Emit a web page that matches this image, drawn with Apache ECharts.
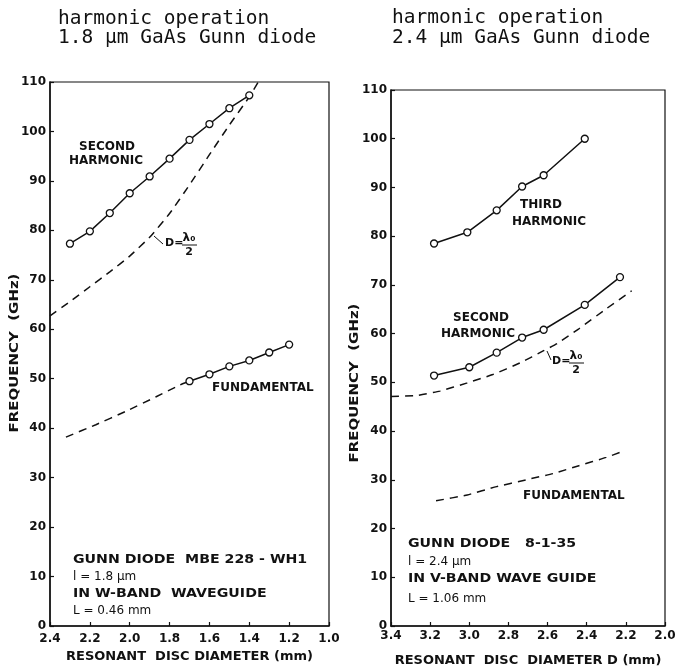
<!DOCTYPE html>
<html>
<head>
<meta charset="utf-8">
<script src="https://cdn.jsdelivr.net/npm/echarts@6/dist/echarts.min.js"></script>
<style>
html, body { margin: 0; padding: 0; background: #fff; }
#chart { width: 675px; height: 669px; }
</style>
</head>
<body>
<div id="chart"></div>
<script>
// left panel: 1.8 um GaAs diode, W-band waveguide
const leftSecondD = [2.3, 2.2, 2.1, 2.0, 1.9, 1.8, 1.7, 1.6, 1.5, 1.4];
const leftSecondF = [77.3, 79.8, 83.5, 87.5, 90.9, 94.5, 98.3, 101.5, 104.7, 107.3];
const leftFundD = [1.7, 1.6, 1.5, 1.4, 1.3, 1.2];
const leftFundF = [49.5, 50.9, 52.5, 53.7, 55.3, 56.9];
const leftFundDashD = [2.32, 2.17, 2.02, 1.87, 1.75, 1.7];
const leftFundDashF = [38.2, 40.7, 43.4, 46.3, 48.7, 49.5];
const leftHalfLambdaD = [2.4, 2.3, 2.2, 2.1, 2.0, 1.9, 1.8, 1.7, 1.6, 1.5, 1.4, 1.355];
const leftHalfLambdaF = [62.7, 65.6, 68.6, 71.6, 74.8, 78.6, 83.4, 89.2, 95.3, 101.3, 107.0, 110];

// right panel: 2.4 um GaAs diode, V-band waveguide
const rightThirdD = [3.18, 3.01, 2.86, 2.73, 2.62, 2.41];
const rightThirdF = [78.5, 80.8, 85.3, 90.2, 92.5, 100];
const rightSecondD = [3.18, 3.0, 2.86, 2.73, 2.62, 2.41, 2.23];
const rightSecondF = [51.4, 53.1, 56.1, 59.2, 60.8, 65.9, 71.6];
const rightHalfLambdaD = [3.4, 3.27, 3.15, 3.01, 2.88, 2.74, 2.62, 2.55, 2.44, 2.3, 2.17];
const rightHalfLambdaF = [47.1, 47.3, 48.2, 49.9, 51.6, 54.0, 56.5, 58.0, 61.0, 65.1, 68.8];
const rightFundD = [3.17, 3.01, 2.86, 2.71, 2.57, 2.44, 2.3, 2.22];
const rightFundF = [25.7, 26.9, 28.6, 30.0, 31.3, 32.9, 34.6, 35.8];

const INK = '#111';
const BOLD = 'bold 12px "DejaVu Sans"';

function zip(d, f) {
    return d.map((x, i) => [x, f[i]]);
}

function solidSeries(d, f, g) {
    return {
        type: 'line', xAxisIndex: g, yAxisIndex: g,
        data: zip(d, f),
        symbol: 'circle', symbolSize: 7,
        itemStyle: { color: '#fff', borderColor: INK, borderWidth: 1.3 },
        lineStyle: { color: INK, width: 1.5 },
        z: 3
    };
}

function dashedSeries(d, f, g) {
    return {
        type: 'line', xAxisIndex: g, yAxisIndex: g,
        data: zip(d, f),
        symbol: 'none', smooth: 0.15,
        lineStyle: { color: INK, width: 1.5, type: [8, 6] },
        z: 2
    };
}

function text(x, y, str, extra) {
    const el = {
        type: 'text', x: x, y: y,
        style: {
            text: str, font: BOLD, fill: INK,
            align: 'left', verticalAlign: 'middle',
            textAlign: 'left', textVerticalAlign: 'middle'
        }
    };
    return Object.assign(el, extra || {});
}

function centered(x, y, str, extra) {
    const el = text(x, y, str, extra);
    el.style.align = el.style.textAlign = 'center';
    return el;
}

function line(x1, y1, x2, y2) {
    return { type: 'line', shape: { x1, y1, x2, y2 }, style: { stroke: INK, lineWidth: 1 } };
}

// D = lambda0 / 2 label
function halfLambda(x, y, lead) {
    return [
        line(lead[0], lead[1], lead[2], lead[3]),
        text(x, y, 'D=', { style: { text: 'D=', font: 'bold 11px "DejaVu Sans"', fill: INK, align: 'left', verticalAlign: 'middle' } }),
        centered(x + 24, y - 5, 'λ₀', { style: { text: 'λ₀', font: 'bold 12px "DejaVu Sans"', fill: INK, align: 'center', verticalAlign: 'middle' } }),
        line(x + 17, y + 2, x + 32, y + 2),
        centered(x + 24, y + 9, '2', { style: { text: '2', font: 'bold 11px "DejaVu Sans"', fill: INK, align: 'center', verticalAlign: 'middle' } })
    ];
}

function xAxis(g, min, max, name, gap, margin) {
    return {
        type: 'value', gridIndex: g, min: min, max: max, interval: 0.2, inverse: true,
        name: name, nameLocation: 'middle', nameGap: gap,
        nameTextStyle: { fontFamily: 'DejaVu Sans', fontWeight: 'bold', fontSize: 13, color: INK },
        axisLine: { lineStyle: { color: INK, width: 1.5 } },
        axisTick: { inside: true, length: 4, lineStyle: { color: INK, width: 1.2 } },
        axisLabel: { margin: margin, fontFamily: 'DejaVu Sans', fontWeight: 'bold', fontSize: 12, color: INK,
            formatter: v => v.toFixed(1) },
        splitLine: { show: false }
    };
}

function yAxis(g) {
    return {
        type: 'value', gridIndex: g, min: 0, max: 110, interval: 10,
        axisLine: { show: true, lineStyle: { color: INK, width: 1.5 } },
        axisTick: { show: true, inside: true, length: 4, lineStyle: { color: INK, width: 1.2 } },
        axisLabel: { margin: 4, fontFamily: 'DejaVu Sans', fontWeight: 'bold', fontSize: 12, color: INK },
        splitLine: { show: false }
    };
}

const mono = '19.5px "DejaVu Sans Mono"';
const wide = { scaleX: 1.18 };

const chart = echarts.init(document.getElementById('chart'));

chart.setOption({
    animation: false,
    backgroundColor: '#fff',
    grid: [
        { left: 50, top: 82, width: 279, height: 544, show: true, borderColor: INK, borderWidth: 1.2, outerBoundsMode: 'none' },
        { left: 391, top: 90, width: 274, height: 536, show: true, borderColor: INK, borderWidth: 1.2, outerBoundsMode: 'none' }
    ],
    xAxis: [
        xAxis(0, 1.0, 2.4, 'RESONANT  DISC DIAMETER (mm)', 14, 7),
        xAxis(1, 2.0, 3.4, 'RESONANT  DISC  DIAMETER D (mm)', 28, 4)
    ],
    yAxis: [yAxis(0), yAxis(1)],
    series: [
        solidSeries(leftSecondD, leftSecondF, 0),
        solidSeries(leftFundD, leftFundF, 0),
        dashedSeries(leftFundDashD, leftFundDashF, 0),
        dashedSeries(leftHalfLambdaD, leftHalfLambdaF, 0),
        solidSeries(rightThirdD, rightThirdF, 1),
        solidSeries(rightSecondD, rightSecondF, 1),
        dashedSeries(rightHalfLambdaD, rightHalfLambdaF, 1),
        dashedSeries(rightFundD, rightFundF, 1)
    ],
    graphic: [
        // panel titles
        text(58, 19, 'harmonic operation', { style: { text: 'harmonic operation', font: mono, fill: INK, align: 'left', verticalAlign: 'middle' } }),
        text(58, 38, '1.8 μm GaAs Gunn diode', { style: { text: '1.8 μm GaAs Gunn diode', font: mono, fill: INK, align: 'left', verticalAlign: 'middle' } }),
        text(392, 18, 'harmonic operation', { style: { text: 'harmonic operation', font: mono, fill: INK, align: 'left', verticalAlign: 'middle' } }),
        text(392, 38, '2.4 μm GaAs Gunn diode', { style: { text: '2.4 μm GaAs Gunn diode', font: mono, fill: INK, align: 'left', verticalAlign: 'middle' } }),

        // y axis titles
        centered(15, 353, 'FREQUENCY  (GHz)', { rotation: Math.PI / 2, scaleX: 1.15,
            style: { text: 'FREQUENCY  (GHz)', font: 'bold 13px "DejaVu Sans"', fill: INK, align: 'center', verticalAlign: 'middle' } }),
        centered(355, 383, 'FREQUENCY  (GHz)', { rotation: Math.PI / 2, scaleX: 1.15,
            style: { text: 'FREQUENCY  (GHz)', font: 'bold 13px "DejaVu Sans"', fill: INK, align: 'center', verticalAlign: 'middle' } }),

        // left annotations
        centered(107, 147, 'SECOND'),
        centered(106, 161, 'HARMONIC'),
        text(212, 388, 'FUNDAMENTAL'),
        ...halfLambda(165, 243, [154, 236, 163, 244]),
        text(73, 560, 'GUNN DIODE  MBE 228 - WH1', wide),
        text(73, 577, 'l = 1.8 μm', { style: { text: 'l = 1.8 μm', font: '12px "DejaVu Sans"', fill: INK, align: 'left', verticalAlign: 'middle' } }),
        text(73, 594, 'IN W-BAND  WAVEGUIDE', wide),
        text(73, 611, 'L = 0.46 mm', { style: { text: 'L = 0.46 mm', font: '12px "DejaVu Sans"', fill: INK, align: 'left', verticalAlign: 'middle' } }),

        // right annotations
        centered(541, 205, 'THIRD'),
        centered(549, 222, 'HARMONIC'),
        centered(481, 318, 'SECOND'),
        centered(478, 334, 'HARMONIC'),
        text(523, 496, 'FUNDAMENTAL'),
        ...halfLambda(552, 361, [547, 351, 551, 360]),
        text(408, 544, 'GUNN DIODE   8-1-35', wide),
        text(408, 562, 'l = 2.4 μm', { style: { text: 'l = 2.4 μm', font: '12px "DejaVu Sans"', fill: INK, align: 'left', verticalAlign: 'middle' } }),
        text(408, 579, 'IN V-BAND WAVE GUIDE', wide),
        text(408, 599, 'L = 1.06 mm', { style: { text: 'L = 1.06 mm', font: '12px "DejaVu Sans"', fill: INK, align: 'left', verticalAlign: 'middle' } })
    ]
});

window.addEventListener('resize', function () {
    chart.resize();
});
</script>
</body>
</html>
